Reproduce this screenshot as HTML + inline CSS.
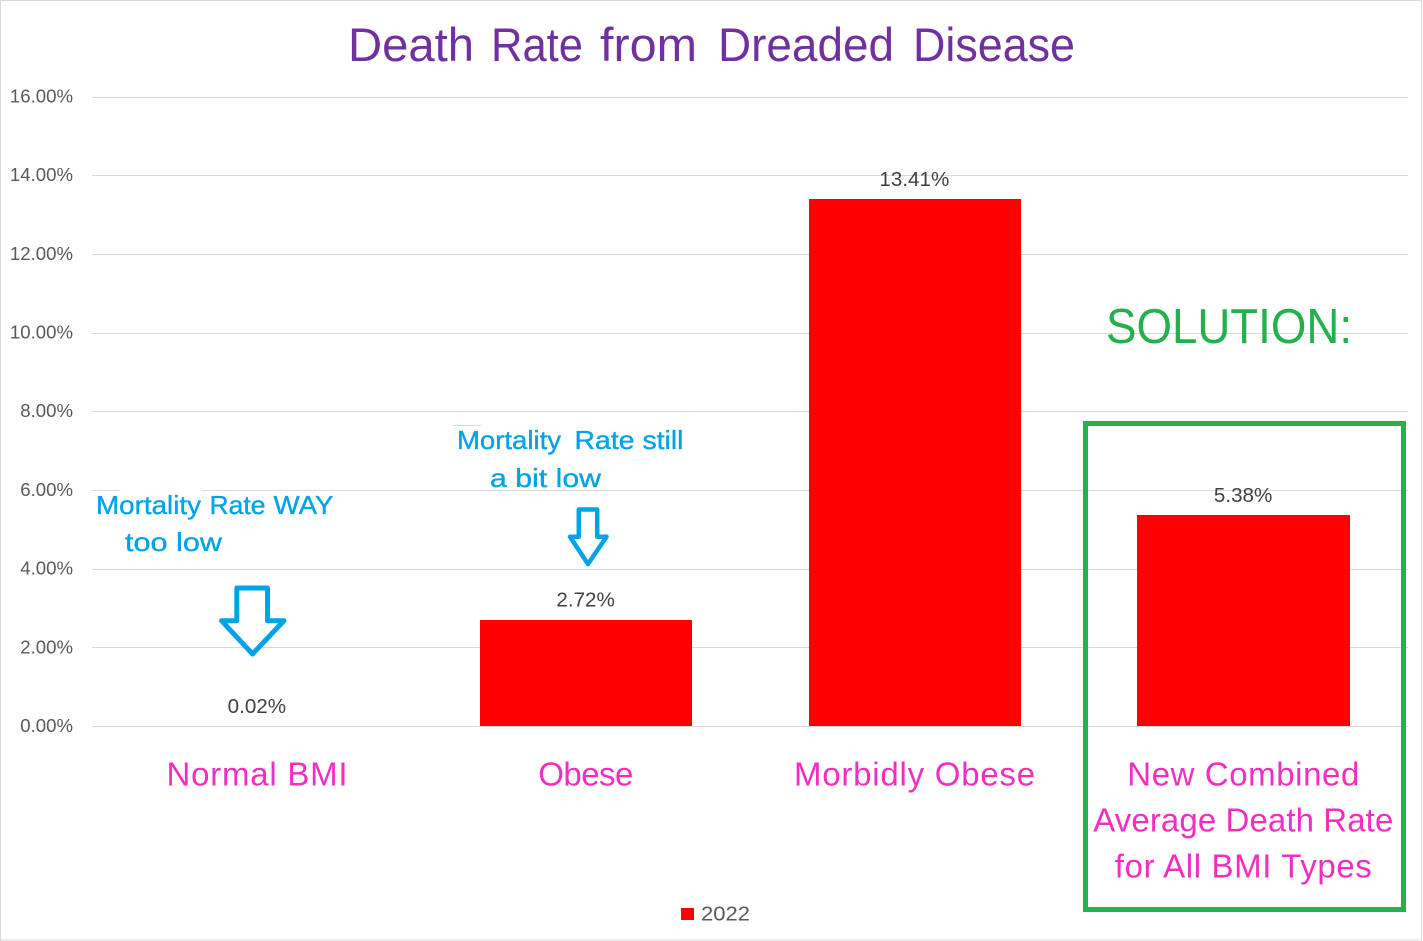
<!DOCTYPE html>
<html lang="en">
<head>
<meta charset="utf-8">
<title>Death Rate from Dreaded Disease</title>
<style>
html,body{margin:0;padding:0;background:#fff;}
svg{display:block;font-family:"Liberation Sans",sans-serif;}
</style>
</head>
<body>
<svg id="chart" width="1423" height="941" viewBox="0 0 1423 941" xmlns="http://www.w3.org/2000/svg">
  <rect x="0.5" y="0.5" width="1421" height="939.5" fill="#fff" stroke="#d9d9d9" stroke-width="1"/>
  <g id="grid"></g>
  <g id="yticks"></g>
  <rect x="120" y="487" width="82" height="6" fill="#fff"/>
  <line x1="453" x2="481" y1="425.5" y2="425.5" stroke="#d9d9d9" stroke-width="1"/>
  <g id="bars"></g>
  <g id="dlabels"></g>
  <g id="xlabels"></g>

  <text y="61" font-size="47" fill="#7030a0"><tspan x="348" textLength="126" lengthAdjust="spacingAndGlyphs">Death</tspan> <tspan x="491" textLength="92" lengthAdjust="spacingAndGlyphs">Rate</tspan> <tspan x="600" textLength="97" lengthAdjust="spacingAndGlyphs">from</tspan> <tspan x="718" textLength="176" lengthAdjust="spacingAndGlyphs">Dreaded</tspan> <tspan x="913" textLength="162" lengthAdjust="spacingAndGlyphs">Disease</tspan></text>

  <text x="1106" y="343" font-size="49" fill="#22b14c" textLength="246" lengthAdjust="spacingAndGlyphs">SOLUTION:</text>
  <rect x="1085.5" y="423.5" width="318" height="486" fill="none" stroke="#22b14c" stroke-width="5"/>

  <g font-size="26" fill="#00a2e8" stroke="#00a2e8" stroke-width="0.35">
    <text x="96" y="514" textLength="105" lengthAdjust="spacingAndGlyphs">Mortality</text>
    <text x="209.5" y="514" textLength="56" lengthAdjust="spacingAndGlyphs">Rate</text>
    <text x="273.5" y="514" textLength="60" lengthAdjust="spacingAndGlyphs">WAY</text>
    <text x="125" y="551" textLength="97" lengthAdjust="spacingAndGlyphs">too low</text>
  </g>
  <g font-size="26" fill="#00a2e8" stroke="#00a2e8" stroke-width="0.35">
    <text x="457" y="449" textLength="104" lengthAdjust="spacingAndGlyphs">Mortality</text>
    <text x="574.5" y="449" textLength="109" lengthAdjust="spacingAndGlyphs">Rate still</text>
    <text x="490" y="487" textLength="111" lengthAdjust="spacingAndGlyphs">a bit low</text>
  </g>

  <path d="M236.8 588H267.5V620.7H284L252.5 654L221.5 620.7H236.8Z" fill="#fff" stroke="#00a2e8" stroke-width="5" stroke-linejoin="round"/>
  <path d="M578.8 509.5H597.2V536.7H606.5L588 564L570 536.7H578.8Z" fill="#fff" stroke="#00a2e8" stroke-width="4.5" stroke-linejoin="round"/>

  <rect x="681" y="908" width="13" height="12" fill="#ff0000"/>
  <text x="701" y="920.5" font-size="20" fill="#595959" textLength="49" lengthAdjust="spacingAndGlyphs">2022</text>
</svg>
<script>
const categories = [["Normal BMI"], ["Obese"], ["Morbidly Obese"], ["New Combined", "Average Death Rate", "for All BMI Types"]];
const values = [0.02, 2.72, 13.41, 5.38];
const valueLabels = ["0.02%", "2.72%", "13.41%", "5.38%"];
const yTicks = [0, 2, 4, 6, 8, 10, 12, 14, 16];
const yTickLabels = ["0.00%", "2.00%", "4.00%", "6.00%", "8.00%", "10.00%", "12.00%", "14.00%", "16.00%"];

const NS = "http://www.w3.org/2000/svg";
const plot = { left: 92.975, right: 1407.975, gridLeft: 92, gridRight: 1408, top: 97.01, bottom: 726.45, baseRow: 726, max: 16, barRatio: 0.646 };
const labelFit = { "Normal BMI": 181, "Obese": 95, "Morbidly Obese": 241, "New Combined": 232, "Average Death Rate": 300, "for All BMI Types": 257 };
function yScale(v) { return plot.bottom - (v / plot.max) * (plot.bottom - plot.top); }
function band() { return (plot.right - plot.left) / categories.length; }
function xCenter(i) { return plot.left + band() * (i + 0.5); }
function make(tag, attrs, parent, text) {
  const el = document.createElementNS(NS, tag);
  Object.keys(attrs).forEach(function (k) { el.setAttribute(k, attrs[k]); });
  if (text !== undefined) el.textContent = text;
  parent.appendChild(el);
  return el;
}
const grid = document.getElementById("grid");
const yticksG = document.getElementById("yticks");
yTicks.forEach(function (t, i) {
  const y = Math.floor(yScale(t)) + 0.5;
  const line = make("line", { x1: plot.gridLeft, x2: plot.gridRight, y1: y, y2: y, stroke: "#d9d9d9", "stroke-width": 1 }, grid);
  
  
  const label = make("text", { x: 73, y: yScale(t) + 5.5, "text-anchor": "end", "font-size": 18.6, fill: "#595959" }, yticksG, yTickLabels[i]);
  
  
});
const barsG = document.getElementById("bars");
const dl = document.getElementById("dlabels");
const xl = document.getElementById("xlabels");
values.forEach(function (v, i) {
  const w = band() * plot.barRatio;
  const cx = xCenter(i);
  const x0 = Math.round(cx - w / 2);
  const x1 = Math.round(cx + w / 2);
  const top = Math.ceil(yScale(v));
  const bar = make("rect", { x: x0, y: top, width: x1 - x0, height: Math.max(0, plot.baseRow - top), fill: "#ff0000" }, barsG);
  
  
  const lab = make("text", { x: cx - 0.5, y: yScale(v) - 12.7, "text-anchor": "middle", "font-size": 20.6, fill: "#404040" }, dl, valueLabels[i]);
  
  
  categories[i].forEach(function (lineText, j) {
    const c = make("text", { x: cx - 0.3, y: 785.5 + j * 46, "text-anchor": "middle", "font-size": 33, fill: "#f22ec0", textLength: labelFit[lineText] || 0, lengthAdjust: "spacing" }, xl, lineText);
    if (!labelFit[lineText]) c.removeAttribute("textLength");
    
    
  });
});
</script>
</body>
</html>
